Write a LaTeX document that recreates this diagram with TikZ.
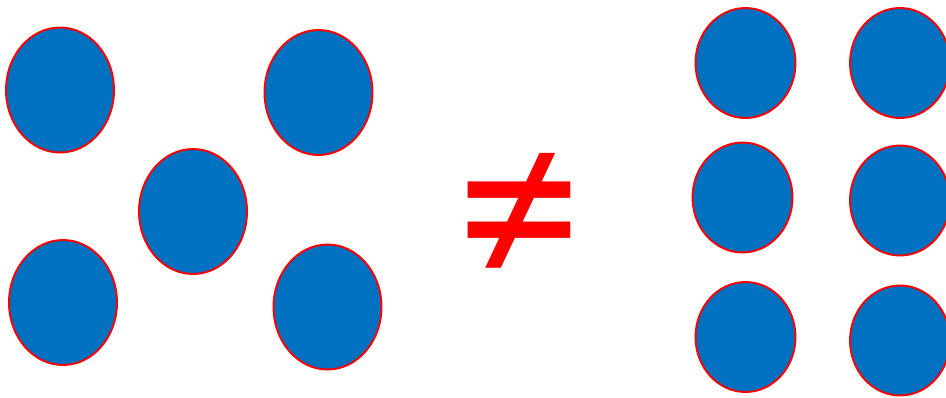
\documentclass[tikz,border=0pt]{standalone}
\usepackage{fontspec}
\usetikzlibrary{shapes.geometric}
\newfontfamily\signfont{Carlito}
\definecolor{dotblue}{RGB}{0,112,192}
\begin{document}
\begin{tikzpicture}[x=0.02cm, y=-0.02cm,
    every node/.style={ellipse, draw=red, line width=1.1pt, fill=dotblue, inner sep=0pt},
    bigdot/.style={minimum width=2.16cm, minimum height=2.5cm},
    smalldot/.style={minimum width=2cm, minimum height=2.2cm},
    sign/.style={shape=rectangle, draw=none, fill=none, text=red, font=\signfont\fontsize{144}{144}\selectfont}]
            \useasboundingbox (0,0) rectangle (946,397);
            % scattered group
            \node[bigdot] (s1) at (60,90) {};
            \node[bigdot] (s2) at (318.5,92.5) {};
            \node[bigdot] (s3) at (193,211.5) {};
            \node[bigdot] (s4) at (63,302.5) {};
            \node[bigdot] (s5) at (327.5,307) {};
            % grid group
            \node[smalldot] (g1) at (745.5,63) {};
            \node[smalldot] (g2) at (900,63) {};
            \node[smalldot] (g3) at (742.5,197.5) {};
            \node[smalldot] (g4) at (900,200.5) {};
            \node[smalldot] (g5) at (745.5,337) {};
            \node[smalldot] (g6) at (900,340.5) {};
            \node[sign] (neq) at (519,222) {≠};
        \end{tikzpicture}
\end{document}
